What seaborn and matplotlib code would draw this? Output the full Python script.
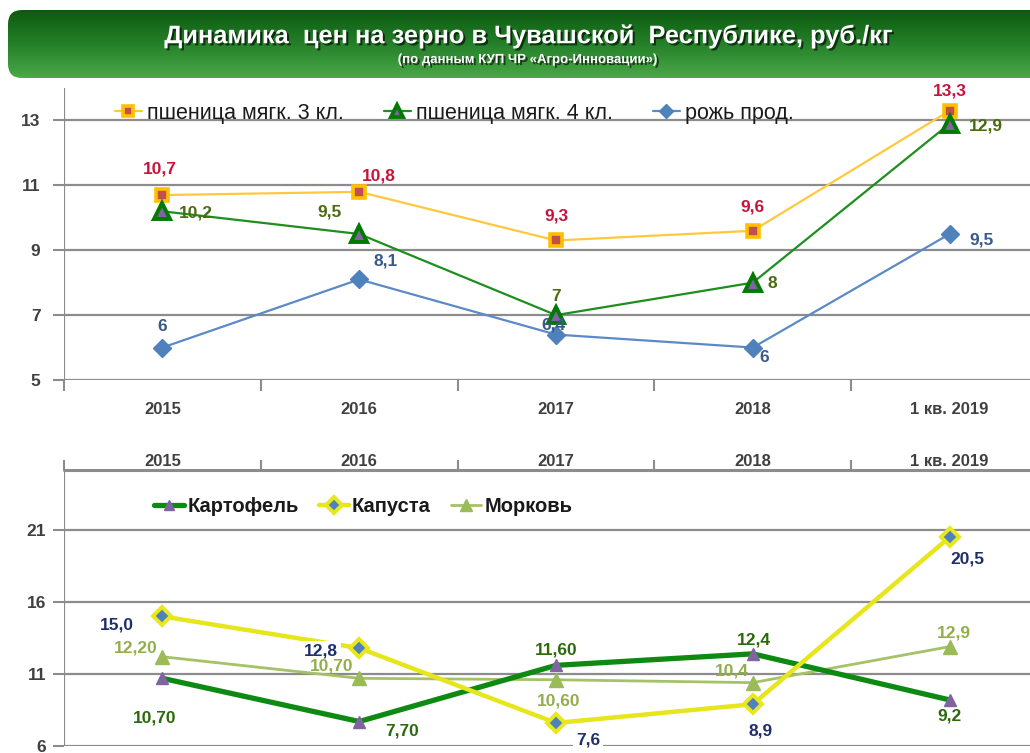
import matplotlib
matplotlib.use("Agg")
import matplotlib.pyplot as plt
import matplotlib.patheffects as pe
from matplotlib.patches import FancyBboxPatch
from matplotlib.colors import LinearSegmentedColormap
import numpy as np
import seaborn as sns

# ---------------- data ----------------
years = ["2015", "2016", "2017", "2018", "1 кв. 2019"]

wheat3 = [10.7, 10.8, 9.3, 9.6, 13.3]
wheat4 = [10.2, 9.5, 7.0, 8.0, 12.9]
rye = [6.0, 8.1, 6.4, 6.0, 9.5]
wheat3_lbl = ["10,7", "10,8", "9,3", "9,6", "13,3"]
wheat4_lbl = ["10,2", "9,5", "7", "8", "12,9"]
rye_lbl = ["6", "8,1", "6,4", "6", "9,5"]

potato = [10.7, 7.7, 11.6, 12.4, 9.2]
cabbage = [15.0, 12.8, 7.6, 8.9, 20.5]
carrot = [12.2, 10.7, 10.6, 10.4, 12.9]
potato_lbl = ["10,70", "7,70", "11,60", "12,4", "9,2"]
cabbage_lbl = ["15,0", "12,8", "7,6", "8,9", "20,5"]
carrot_lbl = ["12,20", "10,70", "10,60", "10,4", "12,9"]

series_top = ["пшеница мягк. 3 кл.", "пшеница мягк. 4 кл.", "рожь прод."]
series_bot = ["Картофель", "Капуста", "Морковь"]

title = "Динамика  цен на зерно в Чувашской  Республике, руб./кг"
subtitle = "(по данным КУП ЧР «Агро-Инновации»)"

# ---------------- style ----------------
sns.set_theme(style="white")
plt.rcParams["font.family"] = ["Liberation Sans", "DejaVu Sans"]

W, H = 1030, 753
fig = plt.figure(figsize=(W / 100, H / 100), dpi=100)
fig.patch.set_facecolor("white")

def fx(px):
    return px / W

def fy(py):
    return 1 - py / H

# ---------------- title banner ----------------
bx0, by0, bx1, by1 = 8, 10, 1100, 78
bax = fig.add_axes([fx(bx0), fy(by1), fx(bx1) - fx(bx0), fy(by0) - fy(by1)])
bax.set_xlim(0, bx1 - bx0)
bax.set_ylim(0, by1 - by0)
bax.axis("off")
grad = np.linspace(0, 1, 256).reshape(-1, 1)
cmap = LinearSegmentedColormap.from_list("g", ["#0C5A10", "#25802A", "#4BA948"])
im = bax.imshow(grad, aspect="auto", cmap=cmap, extent=(0, bx1 - bx0, 0, by1 - by0), origin="upper")
clip = FancyBboxPatch((0, 0), bx1 - bx0, by1 - by0, boxstyle="round,pad=0,rounding_size=14",
                      transform=bax.transData, facecolor="none", edgecolor="none")
bax.add_patch(clip)
im.set_clip_path(clip)

shadow = [pe.withSimplePatchShadow(offset=(1.5, -1.5), shadow_rgbFace="black", alpha=0.6)]
fig.text(0.512, fy(36), title, color="white", fontsize=18.3, fontweight="bold",
         ha="center", va="center", path_effects=shadow)
fig.text(0.512, fy(60), subtitle, color="white", fontsize=9.5, fontweight="bold",
         ha="center", va="center", path_effects=shadow)

grid_c = "#8C8C8C"
tick_c = "#404040"
x = np.arange(len(years))

def style_axes(ax):
    ax.set_facecolor("white")
    ax.set_xlim(-0.5, 4.5)
    for s in ax.spines.values():
        s.set_visible(False)
    ax.grid(False)

def annotate(ax, xs, ys, labels, offsets, color, bbox=False, size=12.5):
    for xi, yi, t, (dx, dy) in zip(xs, ys, labels, offsets):
        kw = {}
        if bbox:
            kw["bbox"] = dict(boxstyle="square,pad=0.15", facecolor="white", edgecolor="none")
        ax.annotate(t, (xi, yi), xytext=(dx, dy), textcoords="offset pixels",
                    ha="center", va="center", color=color, fontsize=size,
                    fontweight="bold", zorder=6, **kw)

# ---------------- upper chart ----------------
ax1 = fig.add_axes([fx(64), fy(380), fx(1048) - fx(64), fy(88) - fy(380)])
style_axes(ax1)
ax1.set_ylim(5, 14.0)
for yv in [5, 7, 9, 11, 13]:
    ax1.axhline(yv, color=grid_c, lw=1.6, zorder=1)
ax1.axvline(-0.5, color=grid_c, lw=1.6, zorder=1)

sns.lineplot(x=x, y=wheat3, ax=ax1, color="#FFC83D", lw=1.6, marker="s", markersize=9,
             markerfacecolor="#C0504D", markeredgecolor="#FFC000", markeredgewidth=2.6,
             zorder=4, label=series_top[0])
sns.lineplot(x=x, y=wheat4, ax=ax1, color="#1E8F1E", lw=1.6, marker="^", markersize=11,
             markerfacecolor="#8064A2", markeredgecolor="#007A00", markeredgewidth=2.8,
             zorder=4, label=series_top[1])
sns.lineplot(x=x, y=rye, ax=ax1, color="#5B8AC6", lw=1.6, marker="D", markersize=9,
             markerfacecolor="#4F81BD", markeredgecolor="#4F81BD", markeredgewidth=1,
             zorder=4, label=series_top[2])

annotate(ax1, x, wheat3, wheat3_lbl, [(-3, 26), (20, 16), (0, 24), (0, 24), (0, 20)], "#C8143C")
annotate(ax1, x, wheat4, wheat4_lbl, [(33, -2), (-30, 22), (0, 19), (20, -1), (36, -2)], "#4A6B12")
annotate(ax1, x, rye, rye_lbl, [(0, 21), (26, 18), (-3, 10), (11, -10), (32, -6)], "#3A5A8C")

ax1.set_xticks(x)
ax1.set_xticklabels(years)
ax1.set_xticks(np.arange(-0.5, 5.0, 1.0), minor=True)
ax1.tick_params(axis="x", which="major", length=0, pad=16, labelsize=12, labelcolor=tick_c)
ax1.tick_params(axis="x", which="minor", length=8, width=1.5, color=grid_c, direction="out")
ax1.tick_params(axis="x", which="both", bottom=True)
ax1.set_yticks([5, 7, 9, 11, 13])
ax1.set_yticklabels(["5", "7", "9", "11", "13"])
ax1.tick_params(axis="y", length=8, width=1.5, color=grid_c, labelsize=12.5, labelcolor=tick_c, pad=9, left=True)
for lbl in ax1.get_xticklabels() + ax1.get_yticklabels():
    lbl.set_fontweight("bold")

h, l = ax1.get_legend_handles_labels()
ax1.legend(h, l, ncol=3, frameon=False, loc="center left",
           bbox_to_anchor=(fx(104 - 64) / (fx(1048) - fx(64)), (fy(113) - fy(380)) / (fy(88) - fy(380))),
           fontsize=15.5, handlelength=1.25, handletextpad=0.25, columnspacing=1.85, borderpad=0,
           markerscale=0.75, labelcolor="#1A1A1A")

# ---------------- lower chart ----------------
ax2 = fig.add_axes([fx(64), fy(746), fx(1048) - fx(64), fy(470) - fy(746)])
style_axes(ax2)
ax2.set_ylim(6, 6 + 276 / 14.4)
for yv in [6, 11, 16, 21]:
    ax2.axhline(yv, color=grid_c, lw=1.6, zorder=1)
ax2.axhline(ax2.get_ylim()[1], color=grid_c, lw=2.2, zorder=1, clip_on=False)
ax2.axvline(-0.5, color=grid_c, lw=1.6, zorder=1)

sns.lineplot(x=x, y=carrot, ax=ax2, color="#A5C267", lw=2.0, marker="^", markersize=10,
             markerfacecolor="#9BBB59", markeredgecolor="#9BBB59", markeredgewidth=1,
             zorder=3, label=series_bot[2])
sns.lineplot(x=x, y=potato, ax=ax2, color="#0E8A12", lw=3.8, marker="^", markersize=9,
             markerfacecolor="#8064A2", markeredgecolor="#8064A2", markeredgewidth=1,
             zorder=4, label=series_bot[0])
sns.lineplot(x=x, y=cabbage, ax=ax2, color="#E6E61A", lw=3.2, marker="D", markersize=9,
             markerfacecolor="#4F81BD", markeredgecolor="#E8E81A", markeredgewidth=2.8,
             zorder=4, label=series_bot[1])

annotate(ax2, x, potato, potato_lbl, [(-8, -40), (43, -9), (0, 15), (1, 14), (0, -16)], "#2A6A0C")
annotate(ax2, x, cabbage, cabbage_lbl, [(-46, -9), (-38, -3), (32, -17), (8, -27), (18, -22)], "#1F2F6A", bbox=True)
annotate(ax2, x, carrot, carrot_lbl, [(-27, 9), (-28, 12), (3, -21), (-21, 12), (4, 14)], "#93AE4E")

ax2.xaxis.tick_top()
ax2.set_xticks(x)
ax2.set_xticklabels(years)
ax2.set_xticks(np.arange(-0.5, 5.0, 1.0), minor=True)
ax2.tick_params(axis="x", which="major", length=0, pad=1, labelsize=12, labelcolor=tick_c, top=True, labeltop=True, bottom=False, labelbottom=False)
ax2.tick_params(axis="x", which="minor", length=7, width=1.5, color=grid_c, top=True, bottom=False)
ax2.set_yticks([6, 11, 16, 21])
ax2.set_yticklabels(["6", "11", "16", "21"])
ax2.tick_params(axis="y", length=8, width=1.5, color=grid_c, labelsize=12.5, labelcolor=tick_c, pad=5, left=True)
for lbl in ax2.get_xticklabels() + ax2.get_yticklabels():
    lbl.set_fontweight("bold")

h2, l2 = ax2.get_legend_handles_labels()
order = [1, 2, 0]
ax2.legend([h2[i] for i in order], [l2[i] for i in order], ncol=3, frameon=False, loc="center left",
           bbox_to_anchor=(fx(144 - 64) / (fx(1048) - fx(64)), (fy(507) - fy(746)) / (fy(470) - fy(746))),
           handlelength=1.5, handletextpad=0.15, columnspacing=1.0, borderpad=0,
           markerscale=0.85, labelcolor="#1A1A1A", prop={"weight": "bold", "size": 14.5})

fig.savefig("out.png", dpi=100, facecolor="white")
